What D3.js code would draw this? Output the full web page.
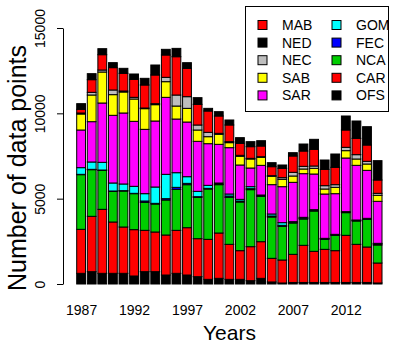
<!DOCTYPE html>
<html>
<head>
<meta charset="utf-8">
<script src="https://cdn.jsdelivr.net/npm/d3@7"></script>
<style>
  html, body { margin: 0; padding: 0; background: #fff; }
  svg { display: block; font-family: "Liberation Sans", Arial, sans-serif; }
</style>
</head>
<body>
<svg id="chart" width="398" height="343"></svg>
<script>
// ---- data ----
const years = d3.range(1987, 2016);
const OFS = [625,723,625,625,625,469,723,723,527,625,527,430,273,332,273,273,195,332,120,60,90,90,90,90,90,90,90,90,60];
const CAR = [2578,3242,3750,3008,2715,2715,2422,2324,2344,2519,2773,2226,2344,2656,2051,1680,1992,2148,1384,1346,1648,2176,1824,1941,1863,2762,2234,2078,1170];
const NCA = [3203,2734,2285,1797,2109,2109,1640,1640,2051,2402,2519,2422,2949,2832,2754,2851,3340,2656,2422,1973,1836,1543,2363,586,898,1328,1367,1621,1055];
const FEC = [20,20,20,20,20,20,78,39,78,117,78,39,39,39,78,59,59,39,59,59,39,39,39,39,39,39,39,39,59];
const GOM = [391,430,449,469,391,410,430,957,1426,859,391,312,176,59,117,98,117,39,117,156,39,59,39,20,20,20,20,20,39];
const SAR = [2207,2363,3476,3965,4160,3808,3769,3867,4511,3144,3203,2930,2441,2265,2715,2012,1094,1738,1719,2109,2305,2558,2090,2597,2383,3144,3203,2812,2461];
const SAB = [937,1562,1816,1211,1230,1309,1211,957,918,762,801,664,410,586,293,508,527,469,488,430,371,273,332,293,371,430,371,371,352];
const NEC = [59,156,117,273,59,98,39,59,254,644,684,293,254,59,59,59,39,39,39,98,215,156,137,195,156,195,254,156,117];
const MAB = [215,742,898,1309,1035,1055,1348,1680,1309,2246,1660,1211,1250,1016,977,703,684,625,527,547,957,898,977,957,1016,1016,957,957,781];
const NED = [332,352,352,293,293,312,391,586,332,488,332,391,156,254,293,332,293,312,234,195,195,410,586,547,781,820,1016,1074,1133];

const stackOrder = ["OFS","CAR","NCA","FEC","GOM","SAR","SAB","NEC","MAB","NED"];
const legendOrder = ["MAB","NED","NEC","SAB","SAR","GOM","FEC","NCA","CAR","OFS"];
const colors = {MAB:"#FF0000",NED:"#000000",NEC:"#BEBEBE",SAB:"#FFFF00",SAR:"#FF00FF",
                GOM:"#00FFFF",FEC:"#0000FF",NCA:"#00CD00",CAR:"#FF0000",OFS:"#000000"};
const yTicks = [0,5000,10000,15000];
const xTickYears = [1987,1992,1997,2002,2007,2012];

const series = {OFS,CAR,NCA,FEC,GOM,SAR,SAB,NEC,MAB,NED};
const table = years.map((yr,i) => {
  const row = {year: yr};
  stackOrder.forEach(k => row[k] = series[k][i]);
  return row;
});

// ---- layout ----
const svg = d3.select("#chart");
const x = d3.scaleBand().domain(years).range([76.7, 382]).paddingInner(1/6).paddingOuter(0);
const y = d3.scaleLinear().domain([0,15000]).range([284, 28]);

const stacked = d3.stack().keys(stackOrder)(table);

svg.append("g").selectAll("g").data(stacked).join("g")
  .attr("fill", d => colors[d.key])
  .selectAll("rect").data(d => d).join("rect")
  .attr("x", d => x(d.data.year))
  .attr("width", x.bandwidth())
  .attr("y", d => y(d[1]))
  .attr("height", d => y(d[0]) - y(d[1]))
  .attr("stroke", "#000")
  .attr("stroke-width", 1);

// y axis
const yAxis = svg.append("g").attr("transform", "translate(63,0)")
  .call(d3.axisLeft(y).tickValues(yTicks).tickSize(6).tickSizeOuter(0).tickFormat(d3.format("d")));
yAxis.select(".domain").attr("stroke", "#000");
yAxis.selectAll(".tick line").attr("stroke", "#000");
yAxis.selectAll(".tick text")
  .attr("transform", "rotate(-90)")
  .attr("x", 0).attr("y", -18).attr("dy", 0)
  .attr("text-anchor", "middle")
  .attr("fill", "#000")
  .style("font-size", "14px");

// x labels
const xl = d3.scaleLinear().domain([1987, 2015])
  .range([x(1987) + x.bandwidth()/2, x(2015) + x.bandwidth()/2]);
const xAxis = svg.append("g").attr("transform", "translate(0,284)")
  .call(d3.axisBottom(xl).tickValues(xTickYears).tickSize(0).tickFormat(d3.format("d")));
xAxis.select(".domain").remove();
xAxis.selectAll(".tick text").attr("y", 31).attr("dy", 0)
  .attr("fill", "#000").style("font-size", "14px");

// axis titles
svg.append("text").attr("transform", "translate(26,168) rotate(-90)")
  .attr("text-anchor", "middle").style("font-size", "25px").attr("fill", "#000")
  .text("Number of data points");
svg.append("text").attr("x", 229.5).attr("y", 340)
  .attr("text-anchor", "middle").style("font-size", "21px").attr("fill", "#000")
  .text("Years");

// legend
const lg = svg.append("g");
lg.append("rect").attr("x", 245.5).attr("y", 6.5).attr("width", 143).attr("height", 105)
  .attr("fill", "#fff").attr("stroke", "#000").attr("stroke-width", 1);
legendOrder.forEach((k, i) => {
  const col = Math.floor(i / 5), row = i % 5;
  const sx = col === 0 ? 258 : 332;
  const cy = 25 + row * 17.6;
  lg.append("rect").attr("x", sx).attr("y", cy - 4.5).attr("width", 9).attr("height", 9)
    .attr("fill", colors[k]).attr("stroke", "#000").attr("stroke-width", 1);
  lg.append("text").attr("x", sx + 24).attr("y", cy + 5)
    .style("font-size", "14px").attr("fill", "#000").text(k);
});
</script>
</body>
</html>
